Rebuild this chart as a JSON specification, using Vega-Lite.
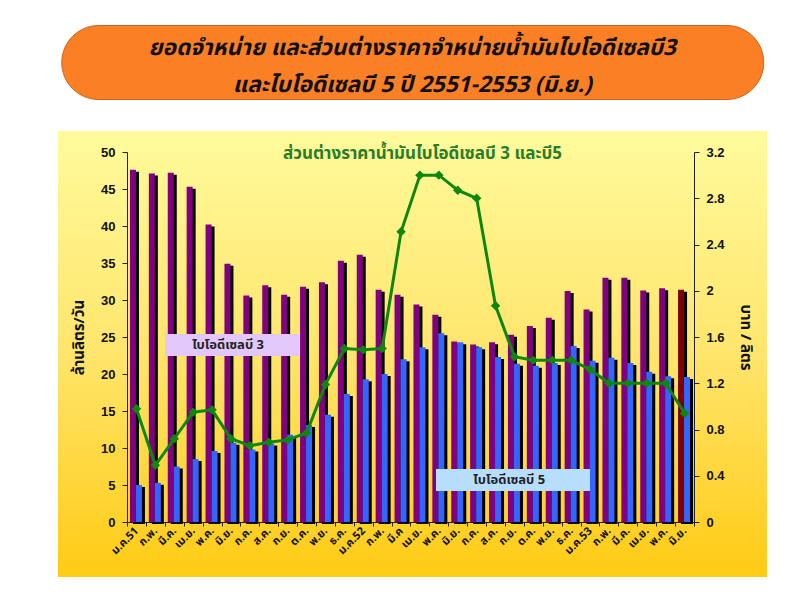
{
  "$schema": "https://vega.github.io/schema/vega-lite/v6.json",
  "background": "#ffffff",
  "padding": {"left": 53, "top": 24, "right": 0, "bottom": 0},
  "spacing": 31,
  "center": true,
  "config": {"view": {"stroke": null}, "axis": {"grid": false}},
  "vconcat": [
    {
      "width": 702,
      "height": 74,
      "view": {"fill": "#FB7F24", "cornerRadius": 37, "stroke": "#C9651B", "strokeWidth": 1},
      "data": {"values": [
        {"line": 1, "text": "ยอดจำหน่าย และส่วนต่างราคาจำหน่ายน้ำมันไบโอดีเซลบี3"},
        {"line": 2, "text": "และไบโอดีเซลบี 5 ปี 2551-2553 (มิ.ย.)"}
      ]},
      "mark": {"type": "text", "font": "Tahoma, 'Noto Sans Thai', 'DejaVu Sans', sans-serif", "fontSize": 22.5, "fontWeight": "bold", "fontStyle": "italic", "color": "#111111", "align": "center", "baseline": "middle"},
      "encoding": {
        "y": {"field": "line", "type": "ordinal", "scale": {"range": [23, 60], "padding": 0}, "axis": null},
        "text": {"field": "text"}
      }
    },
    {
      "width": 709,
      "height": 446,
      "view": {
        "stroke": null,
        "fill": {"gradient": "linear", "x1": 0, "y1": 0, "x2": 0, "y2": 1,
          "stops": [{"offset": 0, "color": "#FFFB9C"}, {"offset": 0.5, "color": "#FFE56C"}, {"offset": 1, "color": "#FFCB14"}]}
      },
      "title": {"text": "ส่วนต่างราคาน้ำมันไบโอดีเซลบี 3 และบี5", "offset": -32, "dx": 10, "color": "#2A7E2A", "fontSize": 17, "fontWeight": "bold", "font": "Tahoma, 'Noto Sans Thai', 'DejaVu Sans', sans-serif", "anchor": "middle"},
      "data": {"values": [
        {"month": "51-01", "b3": 47.6, "b5": 5.0, "diff": 0.98},
        {"month": "51-02", "b3": 47.1, "b5": 5.3, "diff": 0.49},
        {"month": "51-03", "b3": 47.2, "b5": 7.5, "diff": 0.72},
        {"month": "51-04", "b3": 45.3, "b5": 8.5, "diff": 0.95},
        {"month": "51-05", "b3": 40.2, "b5": 9.6, "diff": 0.97},
        {"month": "51-06", "b3": 34.9, "b5": 10.7, "diff": 0.72},
        {"month": "51-07", "b3": 30.6, "b5": 9.8, "diff": 0.66},
        {"month": "51-08", "b3": 32.0, "b5": 10.6, "diff": 0.69},
        {"month": "51-09", "b3": 30.7, "b5": 11.8, "diff": 0.71},
        {"month": "51-10", "b3": 31.8, "b5": 13.1, "diff": 0.77},
        {"month": "51-11", "b3": 32.4, "b5": 14.5, "diff": 1.19},
        {"month": "51-12", "b3": 35.3, "b5": 17.3, "diff": 1.50},
        {"month": "52-01", "b3": 36.1, "b5": 19.3, "diff": 1.49},
        {"month": "52-02", "b3": 31.4, "b5": 20.0, "diff": 1.50},
        {"month": "52-03", "b3": 30.7, "b5": 22.0, "diff": 2.51},
        {"month": "52-04", "b3": 29.4, "b5": 23.6, "diff": 3.00},
        {"month": "52-05", "b3": 28.0, "b5": 25.5, "diff": 3.00},
        {"month": "52-06", "b3": 24.4, "b5": 24.3, "diff": 2.87},
        {"month": "52-07", "b3": 24.0, "b5": 23.6, "diff": 2.80},
        {"month": "52-08", "b3": 24.3, "b5": 22.3, "diff": 1.87},
        {"month": "52-09", "b3": 25.3, "b5": 21.4, "diff": 1.43},
        {"month": "52-10", "b3": 26.5, "b5": 21.1, "diff": 1.40},
        {"month": "52-11", "b3": 27.6, "b5": 21.5, "diff": 1.40},
        {"month": "52-12", "b3": 31.2, "b5": 23.8, "diff": 1.40},
        {"month": "53-01", "b3": 28.7, "b5": 21.8, "diff": 1.32},
        {"month": "53-02", "b3": 33.0, "b5": 22.2, "diff": 1.20},
        {"month": "53-03", "b3": 33.0, "b5": 21.5, "diff": 1.20},
        {"month": "53-04", "b3": 31.3, "b5": 20.3, "diff": 1.20},
        {"month": "53-05", "b3": 31.6, "b5": 19.7, "diff": 1.20},
        {"month": "53-06", "b3": 31.4, "b5": 19.6, "diff": 0.94}
      ]},
      "encoding": {
        "x": {
          "field": "month", "type": "ordinal", "sort": null,
          "scale": {"range": [69, 636], "paddingInner": 0, "paddingOuter": 0},
          "axis": {
            "title": null, "orient": "bottom", "offset": -55,
            "tickBand": "extent", "tickExtra": false, "tickSize": 4, "tickColor": "#222222", "domainColor": "#222222",
            "labelAngle": -45, "labelAlign": "right", "labelBaseline": "middle", "labelPadding": 3,
            "labelFont": "Tahoma, 'Noto Sans Thai', 'DejaVu Sans', sans-serif", "labelFontSize": 11, "labelFontWeight": "bold", "labelColor": "#111111",
            "labelExpr": "!isString(datum.value) ? '' : datum.value == '52-03' ? 'มี.ค' : ['ม.ค.','ก.พ.','มี.ค.','เม.ย.','พ.ค.','มิ.ย.','ก.ค.','ส.ค.','ก.ย.','ต.ค.','พ.ย.','ธ.ค.'][toNumber(substring(datum.value,3,5))-1] + (substring(datum.value,3,5) == '01' ? substring(datum.value,0,2) : '')"
          }
        }
      },
      "layer": [
        {
          "layer": [
            {
              "mark": {"type": "bar", "width": 6, "xOffset": -0.5, "yOffset": 2, "color": "#000000"},
              "encoding": {"y": {"field": "b3", "type": "quantitative", "scale": {"domain": [0, 50], "range": [391, 21], "nice": false},
                "axis": {"title": "ล้านลิตร/วัน", "orient": "left", "offset": -69, "values": [0,5,10,15,20,25,30,35,40,45,50], "tickSize": 5, "tickColor": "#222222", "domainColor": "#222222", "labelPadding": 7, "labelFont": "Liberation Sans, Arial, sans-serif", "labelFontSize": 13, "labelFontWeight": "bold", "labelColor": "#111111", "titleFont": "Tahoma, 'Noto Sans Thai', 'DejaVu Sans', sans-serif", "titleFontSize": 15, "titleFontWeight": "bold", "titleColor": "#111111", "titlePadding": 14}}}
            },
            {
              "mark": {"type": "bar", "width": 6, "xOffset": -3.5},
              "encoding": {
                "y": {"field": "b3", "type": "quantitative", "scale": {"domain": [0, 50], "range": [391, 21], "nice": false},
                  "axis": {"title": "ล้านลิตร/วัน", "orient": "left", "offset": -69, "values": [0,5,10,15,20,25,30,35,40,45,50], "tickSize": 5, "tickColor": "#222222", "domainColor": "#222222", "labelPadding": 7, "labelFont": "Liberation Sans, Arial, sans-serif", "labelFontSize": 13, "labelFontWeight": "bold", "labelColor": "#111111", "titleFont": "Tahoma, 'Noto Sans Thai', 'DejaVu Sans', sans-serif", "titleFontSize": 15, "titleFontWeight": "bold", "titleColor": "#111111", "titlePadding": 14}},
                "color": {
                  "condition": {"test": "datum.month === '53-06'", "value": "#800000"},
                  "datum": "ไบโอดีเซลบี 3", "type": "nominal",
                  "scale": {"range": ["#800080"]},
                  "legend": {"orient": "none", "legendX": 107, "legendY": 203, "title": null, "fillColor": "#E2C8FA", "padding": 4, "symbolSize": 0, "symbolOpacity": 0, "symbolStrokeWidth": 0, "labelOffset": 0, "labelFont": "Tahoma, 'Noto Sans Thai', 'DejaVu Sans', sans-serif", "labelFontSize": 13, "labelFontWeight": "bold", "labelColor": "#222222", "labelExpr": "'\u2800' + datum.label + '\u2800\u2800\u2800'"}
                }
              }
            },
            {
              "mark": {"type": "bar", "width": 6, "xOffset": 5.5, "yOffset": 2, "color": "#000000"},
              "encoding": {"y": {"field": "b5", "type": "quantitative", "scale": {"domain": [0, 50], "range": [391, 21], "nice": false},
                "axis": {"title": "ล้านลิตร/วัน", "orient": "left", "offset": -69, "values": [0,5,10,15,20,25,30,35,40,45,50], "tickSize": 5, "tickColor": "#222222", "domainColor": "#222222", "labelPadding": 7, "labelFont": "Liberation Sans, Arial, sans-serif", "labelFontSize": 13, "labelFontWeight": "bold", "labelColor": "#111111", "titleFont": "Tahoma, 'Noto Sans Thai', 'DejaVu Sans', sans-serif", "titleFontSize": 15, "titleFontWeight": "bold", "titleColor": "#111111", "titlePadding": 14}}}
            },
            {
              "mark": {"type": "bar", "width": 6, "xOffset": 2.5},
              "encoding": {
                "y": {"field": "b5", "type": "quantitative", "scale": {"domain": [0, 50], "range": [391, 21], "nice": false},
                  "axis": {"title": "ล้านลิตร/วัน", "orient": "left", "offset": -69, "values": [0,5,10,15,20,25,30,35,40,45,50], "tickSize": 5, "tickColor": "#222222", "domainColor": "#222222", "labelPadding": 7, "labelFont": "Liberation Sans, Arial, sans-serif", "labelFontSize": 13, "labelFontWeight": "bold", "labelColor": "#111111", "titleFont": "Tahoma, 'Noto Sans Thai', 'DejaVu Sans', sans-serif", "titleFontSize": 15, "titleFontWeight": "bold", "titleColor": "#111111", "titlePadding": 14}},
                "color": {
                  "datum": "ไบโอดีเซลบี 5", "type": "nominal",
                  "scale": {"range": ["#3366FF"]},
                  "legend": {"orient": "none", "legendX": 378, "legendY": 338, "title": null, "fillColor": "#B8DEFF", "padding": 4, "symbolSize": 0, "symbolOpacity": 0, "symbolStrokeWidth": 0, "labelOffset": 0, "labelFont": "Tahoma, 'Noto Sans Thai', 'DejaVu Sans', sans-serif", "labelFontSize": 13, "labelFontWeight": "bold", "labelColor": "#222222", "labelExpr": "'\u2800\u2800' + datum.label + '\u2800\u2800\u2800\u2800'"}
                }
              }
            }
          ],
          "resolve": {"scale": {"color": "independent"}, "legend": {"color": "independent"}}
        },
        {
          "layer": [
            {
              "mark": {"type": "line", "color": "#0E870E", "strokeWidth": 3},
              "encoding": {"y": {"field": "diff", "type": "quantitative", "scale": {"domain": [0, 3.2], "range": [391, 21], "nice": false},
                "axis": {"title": "บาท / ลิตร", "orient": "right", "offset": -73, "values": [0,0.4,0.8,1.2,1.6,2,2.4,2.8,3.2], "format": "~f", "tickSize": 5, "tickColor": "#222222", "domainColor": "#222222", "labelPadding": 7, "labelFont": "Liberation Sans, Arial, sans-serif", "labelFontSize": 13, "labelFontWeight": "bold", "labelColor": "#111111", "titleFont": "Tahoma, 'Noto Sans Thai', 'DejaVu Sans', sans-serif", "titleFontSize": 15, "titleFontWeight": "bold", "titleColor": "#111111", "titlePadding": 13}}}
            },
            {
              "mark": {"type": "point", "shape": "diamond", "filled": true, "size": 90, "color": "#0E870E", "opacity": 1},
              "encoding": {"y": {"field": "diff", "type": "quantitative", "scale": {"domain": [0, 3.2], "range": [391, 21], "nice": false},
                "axis": {"title": "บาท / ลิตร", "orient": "right", "offset": -73, "values": [0,0.4,0.8,1.2,1.6,2,2.4,2.8,3.2], "format": "~f", "tickSize": 5, "tickColor": "#222222", "domainColor": "#222222", "labelPadding": 7, "labelFont": "Liberation Sans, Arial, sans-serif", "labelFontSize": 13, "labelFontWeight": "bold", "labelColor": "#111111", "titleFont": "Tahoma, 'Noto Sans Thai', 'DejaVu Sans', sans-serif", "titleFontSize": 15, "titleFontWeight": "bold", "titleColor": "#111111", "titlePadding": 13}}}
            }
          ]
        }
      ],
      "resolve": {"scale": {"y": "independent"}}
    }
  ]
}
